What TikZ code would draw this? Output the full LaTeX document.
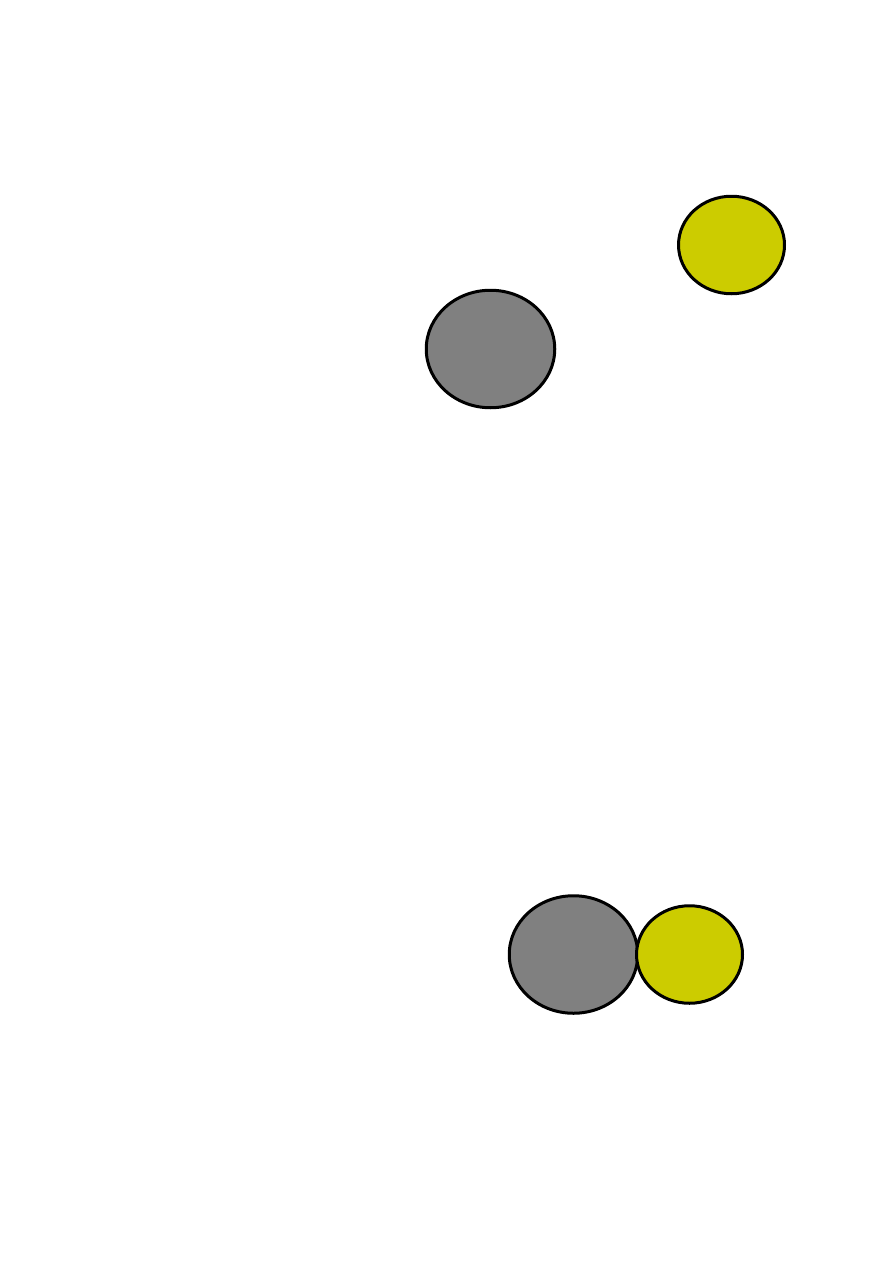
\documentclass[tikz,border=0pt]{standalone}
\usetikzlibrary{shapes.geometric}
\definecolor{blobgray}{HTML}{808080}
\definecolor{blobyellow}{HTML}{CCCC00}
\tikzset{
  blob/.style={ellipse, draw=black, line width=3pt, inner sep=0pt},
  big/.style={blob, fill=blobgray, minimum width=128.5pt, minimum height=117.5pt},
  small/.style={blob, fill=blobyellow, minimum width=106pt, minimum height=97.5pt}
}
\begin{document}
\begin{tikzpicture}[x=1pt,y=-1pt]
\useasboundingbox (0,0) rectangle (893,1263);
\fill[white] (0,0) rectangle (893,1263);
\node[small] (y1) at (731.5,245) {};
\node[big] (g1) at (490.5,349) {};
\node[big] (g2) at (573.5,954.5) {};
\node[small] (y2) at (689.5,954.5) {};
\end{tikzpicture}
\end{document}
